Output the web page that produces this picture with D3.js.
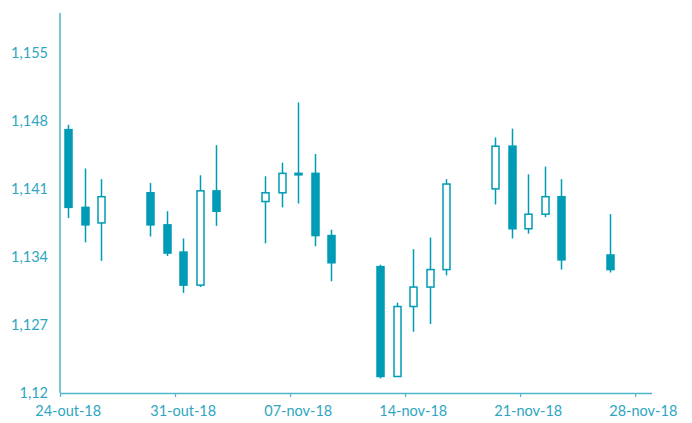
<!DOCTYPE html>
<html><head><meta charset="utf-8">
<script src="https://cdn.jsdelivr.net/npm/d3@7"></script>
<style>body{margin:0;background:#fff}svg{display:block}</style>
</head><body><svg id="c" width="692" height="423"></svg>
<script>
const dates = ["2018-10-24","2018-10-25","2018-10-26","2018-10-29","2018-10-30","2018-10-31","2018-11-01","2018-11-02",
"2018-11-05","2018-11-06","2018-11-07","2018-11-08","2018-11-09","2018-11-12","2018-11-13","2018-11-14","2018-11-15","2018-11-16",
"2018-11-19","2018-11-20","2018-11-21","2018-11-22","2018-11-23","2018-11-26"];
const open  = [1.1471,1.1391,1.1375,1.1406,1.1373,1.1345,1.1311,1.1408,1.1397,1.1406,1.1426,1.1426,1.1362,1.1330,1.1217,1.1289,1.1309,1.1327,1.1410,1.1454,1.1369,1.1384,1.1402,1.1342];
const high  = [1.1476,1.1431,1.1420,1.1416,1.1387,1.1359,1.1424,1.1455,1.1423,1.1437,1.1499,1.1446,1.1368,1.1332,1.1293,1.1348,1.1360,1.1420,1.1463,1.1472,1.1425,1.1433,1.1420,1.1384];
const low   = [1.1380,1.1355,1.1336,1.1361,1.1341,1.1303,1.1309,1.1372,1.1354,1.1391,1.1395,1.1351,1.1315,1.1215,1.1217,1.1263,1.1271,1.1321,1.1394,1.1359,1.1364,1.1381,1.1327,1.1324];
const close = [1.1391,1.1373,1.1402,1.1373,1.1344,1.1311,1.1408,1.1387,1.1406,1.1426,1.1425,1.1362,1.1334,1.1217,1.1289,1.1309,1.1327,1.1415,1.1454,1.1369,1.1384,1.1402,1.1337,1.1327];
const yTicks = [1.12,1.127,1.134,1.141,1.148,1.155];
const yTickLabels = ["1,12","1,127","1,134","1,141","1,148","1,155"];
const xTicks = ["2018-10-24","2018-10-31","2018-11-07","2018-11-14","2018-11-21","2018-11-28"];
const xTickLabels = ["24-out-18","31-out-18","07-nov-18","14-nov-18","21-nov-18","28-nov-18"];

const parse = d3.utcParse("%Y-%m-%d");
const DAY = 864e5;
const svg = d3.select("#c");
const x = d3.scaleUtc().domain([parse("2018-10-24"), new Date(+parse("2018-11-29")+0.03*DAY)]).range([60,652]);
const y = d3.scaleLinear().domain([1.12,1.1591]).range([393,13]);
const fillC = "#009bb5", axisC = "#4db6ca", textC = "#2ea6c0";
const font = "Lato, 'Open Sans', sans-serif";

// axes
svg.append("line").attr("x1",60).attr("x2",60).attr("y1",y.range()[1]).attr("y2",393).attr("stroke",axisC).attr("stroke-width",1.5);
const xAxis = d3.axisBottom(x).tickValues(xTicks.map(parse)).tickSize(4).tickFormat("");
const gx = svg.append("g").attr("transform","translate(0,393)").call(xAxis);
gx.select(".domain").attr("stroke",axisC).attr("stroke-width",1.5).attr("d","M60,0.5H652");
gx.selectAll(".tick line").attr("stroke",axisC).attr("stroke-width",1.2);
svg.selectAll(".xl").data(xTicks).join("text").attr("class","xl")
  .attr("x",d=>x(new Date(+parse(d)+0.5*DAY))).attr("y",416).attr("text-anchor","middle")
  .attr("fill",textC).attr("font-family",font).attr("font-size",14.5).attr("font-weight",400)
  .text((d,i)=>xTickLabels[i]);
svg.selectAll(".yl").data(yTicks).join("text").attr("class","yl")
  .attr("x",48).attr("y",d=>y(d)+5).attr("text-anchor","end")
  .attr("fill",textC).attr("font-family",font).attr("font-size",14.5).attr("font-weight",400)
  .text((d,i)=>yTickLabels[i]);

// candles
const data = dates.map((d,i)=>({t:new Date(+parse(d)+0.5*DAY),o:open[i],h:high[i],l:low[i],c:close[i]}));
const bw = 7;
const g = svg.append("g");
const cg = g.selectAll("g").data(data).join("g");
cg.append("line").attr("x1",d=>Math.round(x(d.t))+0.5).attr("x2",d=>Math.round(x(d.t))+0.5)
  .attr("y1",d=>y(d.h)).attr("y2",d=>y(d.l)).attr("stroke",fillC).attr("stroke-width",1.5);
cg.append("rect")
  .attr("x",d=>Math.round(x(d.t))+0.5-bw/2)
  .attr("y",d=>y(Math.max(d.o,d.c)))
  .attr("width",bw)
  .attr("height",d=>Math.max(1.5,Math.abs(y(d.o)-y(d.c))))
  .attr("fill",d=>d.c<d.o?fillC:"#fff")
  .attr("stroke",fillC).attr("stroke-width",1.5);
</script></body></html>
